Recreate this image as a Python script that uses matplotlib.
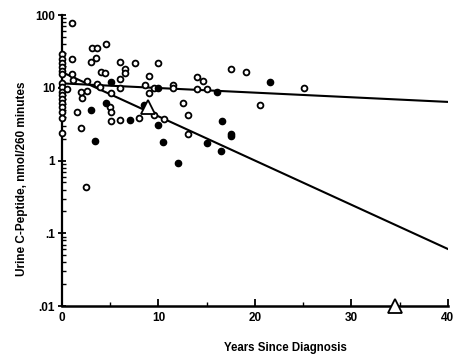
import matplotlib
matplotlib.use("Agg")
import matplotlib.pyplot as plt
from matplotlib.ticker import FixedLocator, FixedFormatter, LogLocator, NullFormatter, MultipleLocator

# ---- data ----
open_x = [0]*16 + [0.5, 1.0, 1.0, 1.0, 1.1, 1.6, 2.0, 2.1, 2.0, 2.6, 2.6, 2.5,
                   3.1, 3.6, 3.5, 3.0, 4.6, 4.0, 4.5, 3.6, 3.9, 5.1, 5.0, 5.1, 5.1,
                   6.0, 6.0, 6.5, 6.5, 6.0, 6.0, 7.6, 8.0, 9.0, 8.6, 9.0, 9.5, 10.0,
                   10.6, 9.5, 11.5, 11.5, 12.5, 13.1, 13.1, 14.0, 14.6, 14.0, 15.0,
                   17.5, 19.1, 20.5, 25.1]
open_y = [28.8, 24.6, 21.7, 19.1, 16.8, 15.3, 11.5, 10.2, 8.7, 7.9, 7.0, 6.1, 5.4, 4.6, 3.9, 2.4,
          9.5, 76.6, 24.6, 15.3, 13.0, 4.6, 2.8, 7.3, 8.7, 9.0, 12.3, 0.43,
          35, 35, 26, 22.3, 40, 16.3, 15.8, 11.2, 10.2, 8.4, 5.4, 4.6, 3.5,
          3.6, 22.3, 17.9, 15.8, 13.4, 9.8, 21.7, 3.9, 14.3, 10.8, 8.4, 4.2, 21.7,
          3.7, 9.8, 11.1, 9.8, 6.1, 4.2, 2.3, 13.9, 12.3, 9.6, 9.6,
          17.9, 16.3, 5.8, 9.8]
filled_x = [3.0, 3.4, 4.6, 5.1, 7.0, 8.5, 10.0, 10.0, 10.5, 12.0, 16.1, 16.6, 17.5, 17.5, 15.0, 16.5, 21.6]
filled_y = [5.0, 1.85, 6.1, 11.9, 3.6, 5.8, 9.8, 3.1, 1.8, 0.92, 8.7, 3.5, 2.3, 2.2, 1.75, 1.35, 11.9]
tri_x = [8.9, 34.5]
tri_y = [5.5, 0.01]
line1_x = [0, 40]
line1_y = [11.5, 6.4]
line2_x = [0, 40]
line2_y = [16.4, 0.061]
yticks = [0.01, 0.1, 1, 10, 100]
yticklabels = [".01", ".1", "1", "10", "100"]
xticks = [0, 10, 20, 30, 40]

plt.rcParams['font.family'] = ['Liberation Sans', 'DejaVu Sans']
plt.rcParams['font.weight'] = 'bold'

fig = plt.figure(figsize=(4.56, 3.58), dpi=100)
ax = fig.add_axes([0.136, 0.145, 0.846, 0.813])

ax.plot(line1_x, line1_y, color='black', lw=1.5, zorder=2)
ax.plot(line2_x, line2_y, color='black', lw=1.5, zorder=2)
ax.plot(open_x, open_y, 'o', mfc='white', mec='black', ms=4.2, mew=1.3, ls='none', clip_on=False, zorder=3)
ax.plot(filled_x, filled_y, 'o', mfc='black', mec='black', ms=4.5, mew=1.0, ls='none', clip_on=False, zorder=3)
ax.plot(tri_x, tri_y, '^', mfc='white', mec='black', ms=10.5, mew=1.3, ls='none', clip_on=False, zorder=4)

ax.set_yscale('log')
ax.set_xlim(0, 40)
ax.set_ylim(0.01, 100)
ax.spines['top'].set_visible(False)
ax.spines['right'].set_visible(False)
ax.spines['left'].set_linewidth(1.6)
ax.spines['bottom'].set_linewidth(1.8)

ax.yaxis.set_major_locator(FixedLocator(yticks))
ax.yaxis.set_major_formatter(FixedFormatter(yticklabels))
ax.yaxis.set_minor_locator(LogLocator(base=10, subs=range(2, 10)))
ax.yaxis.set_minor_formatter(NullFormatter())
ax.xaxis.set_major_locator(FixedLocator(xticks))
ax.xaxis.set_minor_locator(MultipleLocator(5))

ax.tick_params(axis='y', which='major', direction='inout', length=6, width=1.3, labelsize=8.5, pad=2)
ax.tick_params(axis='y', which='minor', direction='in', length=3, width=1.0)
ax.tick_params(axis='x', which='major', direction='in', length=5, width=1.3, labelsize=8.5, pad=4)
ax.tick_params(axis='x', which='minor', direction='in', length=3, width=1.0)
for lab in ax.get_xticklabels() + ax.get_yticklabels():
    lab.set_fontweight('bold')

fig.text(0.625, 0.012, "Years Since Diagnosis", ha='center', va='bottom', fontsize=8.3, fontweight='bold')
fig.text(0.048, 0.50, "Urine C-Peptide, nmol/260 minutes", ha='center', va='center', rotation=90,
         fontsize=8.5, fontweight='bold')

fig.savefig("out.png", dpi=100)
